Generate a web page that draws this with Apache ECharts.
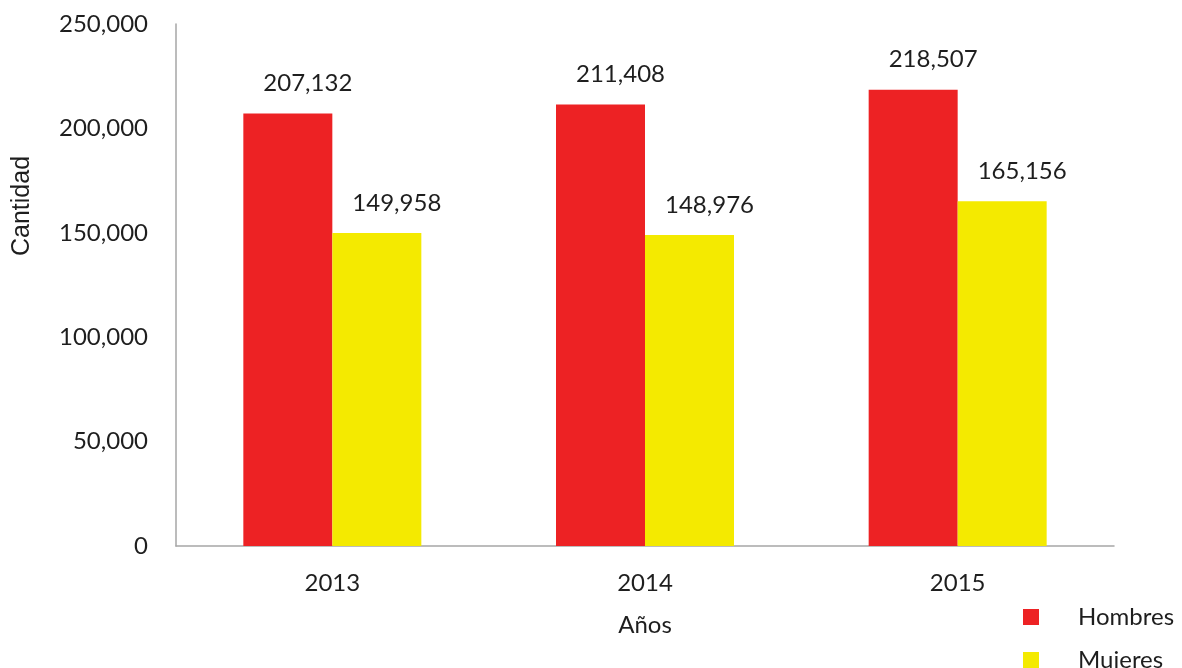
<!DOCTYPE html>
<html>
<head>
<meta charset="utf-8">
<script src="https://cdn.jsdelivr.net/npm/echarts@6/dist/echarts.min.js"></script>
<style>
  html, body { margin: 0; padding: 0; background: #fff; }
  #chart { width: 1182px; height: 668px; }
</style>
</head>
<body>
<div id="chart"></div>
<script>
// Population by sex and year
const years = ['2013', '2014', '2015'];
const hombres = [207132, 211408, 218507];
const mujeres = [149958, 148976, 165156];
const seriesNames = ['Hombres', 'Mujeres'];
const yTicks = { min: 0, max: 250000, interval: 50000 };

const FONT = 'Lato, "Open Sans", sans-serif';
const TEXT = '#1e1e1e';
const AXIS = '#a6a6a6';
const fmt = v => v.toLocaleString('en-US');

const chart = echarts.init(document.getElementById('chart'));

const labelStyle = {
  show: true,
  position: 'top',
  distance: 18,
  offset: [20, 0],
  fontFamily: FONT,
  fontSize: 24,
  lineHeight: 24,
  color: TEXT,
  formatter: p => fmt(p.value)
};

// one legend block per series, stacked at the lower right
const legendItem = (name, top) => ({
  data: [name],
  orient: 'vertical',
  left: 1023,
  top: top,
  padding: 0,
  itemWidth: 16,
  itemHeight: 16,
  icon: 'rect',
  textStyle: {
    fontFamily: FONT,
    fontSize: 24,
    lineHeight: 16,
    color: TEXT,
    padding: [0, 0, 0, 34]
  }
});

chart.setOption({
  animation: false,
  backgroundColor: '#fff',
  textStyle: { fontFamily: FONT },
  grid: { left: 176, right: 68, top: 24, bottom: 122 },
  legend: [legendItem(seriesNames[0], 605), legendItem(seriesNames[1], 648)],
  xAxis: {
    type: 'category',
    data: years,
    name: 'Años',
    nameLocation: 'middle',
    nameGap: 67,
    nameTextStyle: { fontFamily: FONT, fontSize: 24, color: TEXT },
    axisLine: { lineStyle: { color: AXIS, width: 1.5 } },
    axisTick: { show: false },
    axisLabel: { fontFamily: FONT, fontSize: 24, color: TEXT, margin: 25 }
  },
  yAxis: {
    type: 'value',
    min: yTicks.min,
    max: yTicks.max,
    interval: yTicks.interval,
    axisLine: { show: true, lineStyle: { color: AXIS, width: 1.5 } },
    axisTick: { show: false },
    splitLine: { show: false },
    axisLabel: {
      fontFamily: FONT, fontSize: 24, color: TEXT, margin: 28,
      formatter: v => fmt(v)
    }
  },
  graphic: [{
    type: 'text',
    x: 22,
    y: 206,
    rotation: Math.PI / 2,
    style: {
      text: 'Cantidad',
      fontFamily: '"Liberation Sans", Arial, sans-serif',
      fontSize: 25,
      fill: TEXT,
      align: 'center',
      verticalAlign: 'middle'
    }
  }],
  series: [
    {
      name: seriesNames[0],
      type: 'bar',
      data: hombres,
      barWidth: 89,
      barGap: '0%',
      itemStyle: { color: '#ED2224' },
      label: labelStyle
    },
    {
      name: seriesNames[1],
      type: 'bar',
      data: mujeres,
      barWidth: 89,
      barGap: '0%',
      itemStyle: { color: '#F4EA00' },
      label: labelStyle
    }
  ]
});
</script>
</body>
</html>
